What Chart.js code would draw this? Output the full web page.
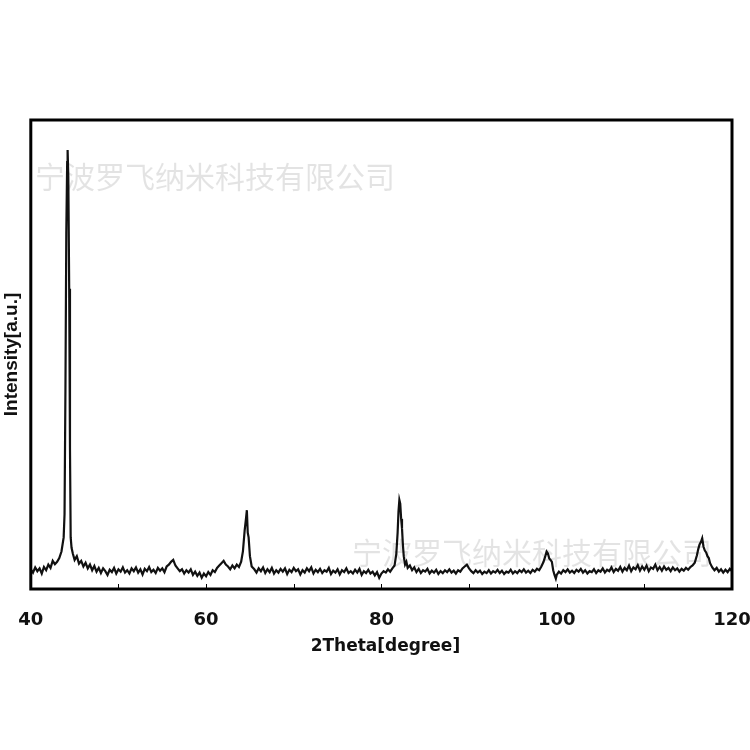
<!DOCTYPE html>
<html>
<head>
<meta charset="utf-8">
<script src="https://cdn.jsdelivr.net/npm/chart.js@4/dist/chart.umd.min.js"></script>
<style>
  html, body { margin: 0; padding: 0; background: #fff; }
  canvas { display: block; }
</style>
</head>
<body>
<canvas id="xrdChart" width="750" height="750"></canvas>
<script>
// 2θ positions (degree)
const twoTheta = [
  40,40.25,40.5,40.75,41,41.25,41.5,41.75,42,42.25,42.5,42.75,43,43.25,43.5,43.75,
  43.85,43.95,44.05,44.15,44.2,44.28,44.38,44.47,44.55,44.65,44.8,
  45,45.25,45.5,45.75,46,46.25,46.5,46.75,47,47.25,47.5,47.75,48,48.25,48.5,48.75,
  49,49.25,49.5,49.75,50,50.25,50.5,50.75,51,51.25,51.5,51.75,52,52.25,52.5,52.75,
  53,53.25,53.5,53.75,54,54.25,54.5,54.75,55,55.25,55.5,55.75,56,56.25,56.5,56.75,
  57,57.25,57.5,57.75,58,58.25,58.5,58.75,59,59.25,59.5,59.75,60,60.25,60.5,60.75,
  61,61.25,61.5,61.75,62,62.25,62.5,62.75,63,63.25,63.5,63.75,64,
  64.2,64.4,64.55,64.65,64.75,64.85,65,65.2,
  65.5,65.75,66,66.25,66.5,66.75,67,67.25,67.5,67.75,68,68.25,68.5,68.75,
  69,69.25,69.5,69.75,70,70.25,70.5,70.75,71,71.25,71.5,71.75,72,72.25,72.5,72.75,
  73,73.25,73.5,73.75,74,74.25,74.5,74.75,75,75.25,75.5,75.75,76,76.25,76.5,76.75,
  77,77.25,77.5,77.75,78,78.25,78.5,78.75,79,79.25,79.5,79.75,80,80.25,80.5,80.75,
  81,81.25,81.5,81.7,81.85,81.95,82.05,82.15,82.25,82.35,82.45,82.55,82.7,82.85,
  83,83.25,83.5,83.75,84,84.25,84.5,84.75,85,85.25,85.5,85.75,86,86.25,86.5,86.75,
  87,87.25,87.5,87.75,88,88.25,88.5,88.75,89,89.25,89.5,89.75,90,90.25,90.5,90.75,
  91,91.25,91.5,91.75,92,92.25,92.5,92.75,93,93.25,93.5,93.75,94,94.25,94.5,94.75,
  95,95.25,95.5,95.75,96,96.25,96.5,96.75,97,97.25,97.5,97.75,98,98.25,98.5,
  98.7,98.85,99,99.15,99.3,99.45,99.6,99.75,99.9,
  100,100.25,100.5,100.75,101,101.25,101.5,101.75,102,102.25,102.5,102.75,
  103,103.25,103.5,103.75,104,104.25,104.5,104.75,105,105.25,105.5,105.75,
  106,106.25,106.5,106.75,107,107.25,107.5,107.75,108,108.25,108.5,108.75,
  109,109.25,109.5,109.75,110,110.25,110.5,110.75,111,111.25,111.5,111.75,
  112,112.25,112.5,112.75,113,113.25,113.5,113.75,114,114.25,114.5,114.75,
  115,115.25,115.5,115.75,116,116.15,116.3,116.45,116.6,116.75,116.9,117.05,117.2,117.35,117.5,
  117.75,118,118.25,118.5,118.75,119,119.25,119.5,119.75,120
];

// intensity (arbitrary units, 0-1000 across the frame)
const intensity = [
  42,35,46,38,44,33,47,40,52,45,60,53,58,66,80,110,
  160,420,760,910,936,880,640,300,110,88,75,
  62,70,54,60,48,56,44,52,40,49,37,45,34,44,38,30,
  41,36,45,33,42,37,46,35,40,33,44,38,46,35,42,31,
  43,38,47,36,41,34,45,39,44,36,48,52,58,62,50,44,
  38,42,33,40,35,42,30,37,28,35,24,33,27,36,30,40,
  36,45,50,55,60,52,48,42,50,44,52,47,58,
  80,125,150,168,120,110,70,48,
  42,35,44,38,46,34,42,36,45,33,40,35,43,37,
  44,32,41,36,45,38,42,31,40,35,44,38,46,33,41,36,
  43,34,40,37,45,32,39,35,42,31,40,36,44,34,38,33,
  41,35,43,30,38,34,41,33,37,29,36,24,33,38,35,42,
  37,44,50,75,120,165,190,182,150,130,95,70,52,58,
  45,50,40,46,36,43,34,40,37,43,33,39,35,41,32,38,
  34,40,36,42,35,39,33,40,37,44,48,52,44,38,34,40,
  35,39,32,37,34,40,33,38,35,41,34,39,32,37,35,41,
  33,38,34,40,36,42,35,39,34,41,37,43,40,48,58,
  70,80,76,65,62,58,40,30,22,
  30,37,33,40,36,42,35,39,34,41,37,43,
  35,40,33,38,36,42,34,40,37,44,35,41,
  38,46,36,43,39,47,37,45,40,50,38,46,
  42,51,39,48,41,50,38,46,43,52,40,47,
  39,48,41,45,38,46,40,44,37,43,39,45,
  41,47,50,56,72,85,95,100,108,90,82,78,70,66,55,
  46,40,45,37,42,35,41,36,43,38
];

const xTickValues = [40, 50, 60, 70, 80, 90, 100, 110, 120];
const xLabelValues = [40, 60, 80, 100, 120];
const xTitle = '2Theta[degree]';
const yTitle = 'Intensity[a.u.]';
const watermark = '宁波罗飞纳米科技有限公司';

const points = twoTheta.map((x, i) => ({ x: x, y: intensity[i] }));

// frame, inward ticks, x labels and watermark
const framePlugin = {
  id: 'frame',
  afterDatasetsDraw(chart) {
    const { ctx, chartArea: a, scales } = chart;
    ctx.save();
    // watermark text
    ctx.fillStyle = 'rgba(0,0,0,0.11)';
    ctx.font = '30px "Noto Sans CJK SC"';
    ctx.textBaseline = 'middle';
    ctx.textAlign = 'left';
    ctx.fillText(watermark, 35, 177);
    ctx.fillText(watermark, 352, 553);

    // small ticks pointing inward from the bottom
    ctx.strokeStyle = '#000';
    ctx.lineWidth = 1;
    xTickValues.forEach(v => {
      const px = Math.round(scales.x.getPixelForValue(v)) + 0.5;
      ctx.beginPath();
      ctx.moveTo(px, a.bottom);
      ctx.lineTo(px, a.bottom - 5);
      ctx.stroke();
    });

    // box around plot
    ctx.lineWidth = 3;
    ctx.strokeRect(a.left, a.top, a.right - a.left, a.bottom - a.top);

    // tick labels and axis title under the frame
    ctx.fillStyle = '#111';
    ctx.textAlign = 'center';
    ctx.font = 'bold 18px "DejaVu Sans"';
    xLabelValues.forEach(v => {
      ctx.fillText(String(v), scales.x.getPixelForValue(v), a.bottom + 31);
    });
    ctx.font = 'bold 17px "DejaVu Sans"';
    ctx.fillText(xTitle, (a.left + a.right) / 2 + 4, a.bottom + 58);
    ctx.restore();
  }
};

new Chart(document.getElementById('xrdChart').getContext('2d'), {
  type: 'line',
  data: {
    datasets: [{
      data: points,
      borderColor: '#111',
      borderWidth: 2.2,
      pointRadius: 0,
      tension: 0,
      fill: false
    }]
  },
  options: {
    responsive: false,
    animation: false,
    layout: { padding: { left: 0, right: 18, top: 120, bottom: 161 } },
    plugins: { legend: { display: false }, tooltip: { enabled: false } },
    scales: {
      x: {
        type: 'linear',
        min: 40,
        max: 120,
        border: { display: false },
        grid: { display: false, drawTicks: false },
        ticks: { display: false },
        title: { display: false }
      },
      y: {
        min: 0,
        max: 1000,
        border: { display: false },
        grid: { display: false, drawTicks: false },
        ticks: { display: false },
        title: {
          display: true,
          text: yTitle,
          color: '#111',
          padding: { top: 0, bottom: 8 },
          font: { family: 'Liberation Sans', size: 19, weight: 'bold' }
        }
      }
    }
  },
  plugins: [framePlugin]
});
</script>
</body>
</html>
